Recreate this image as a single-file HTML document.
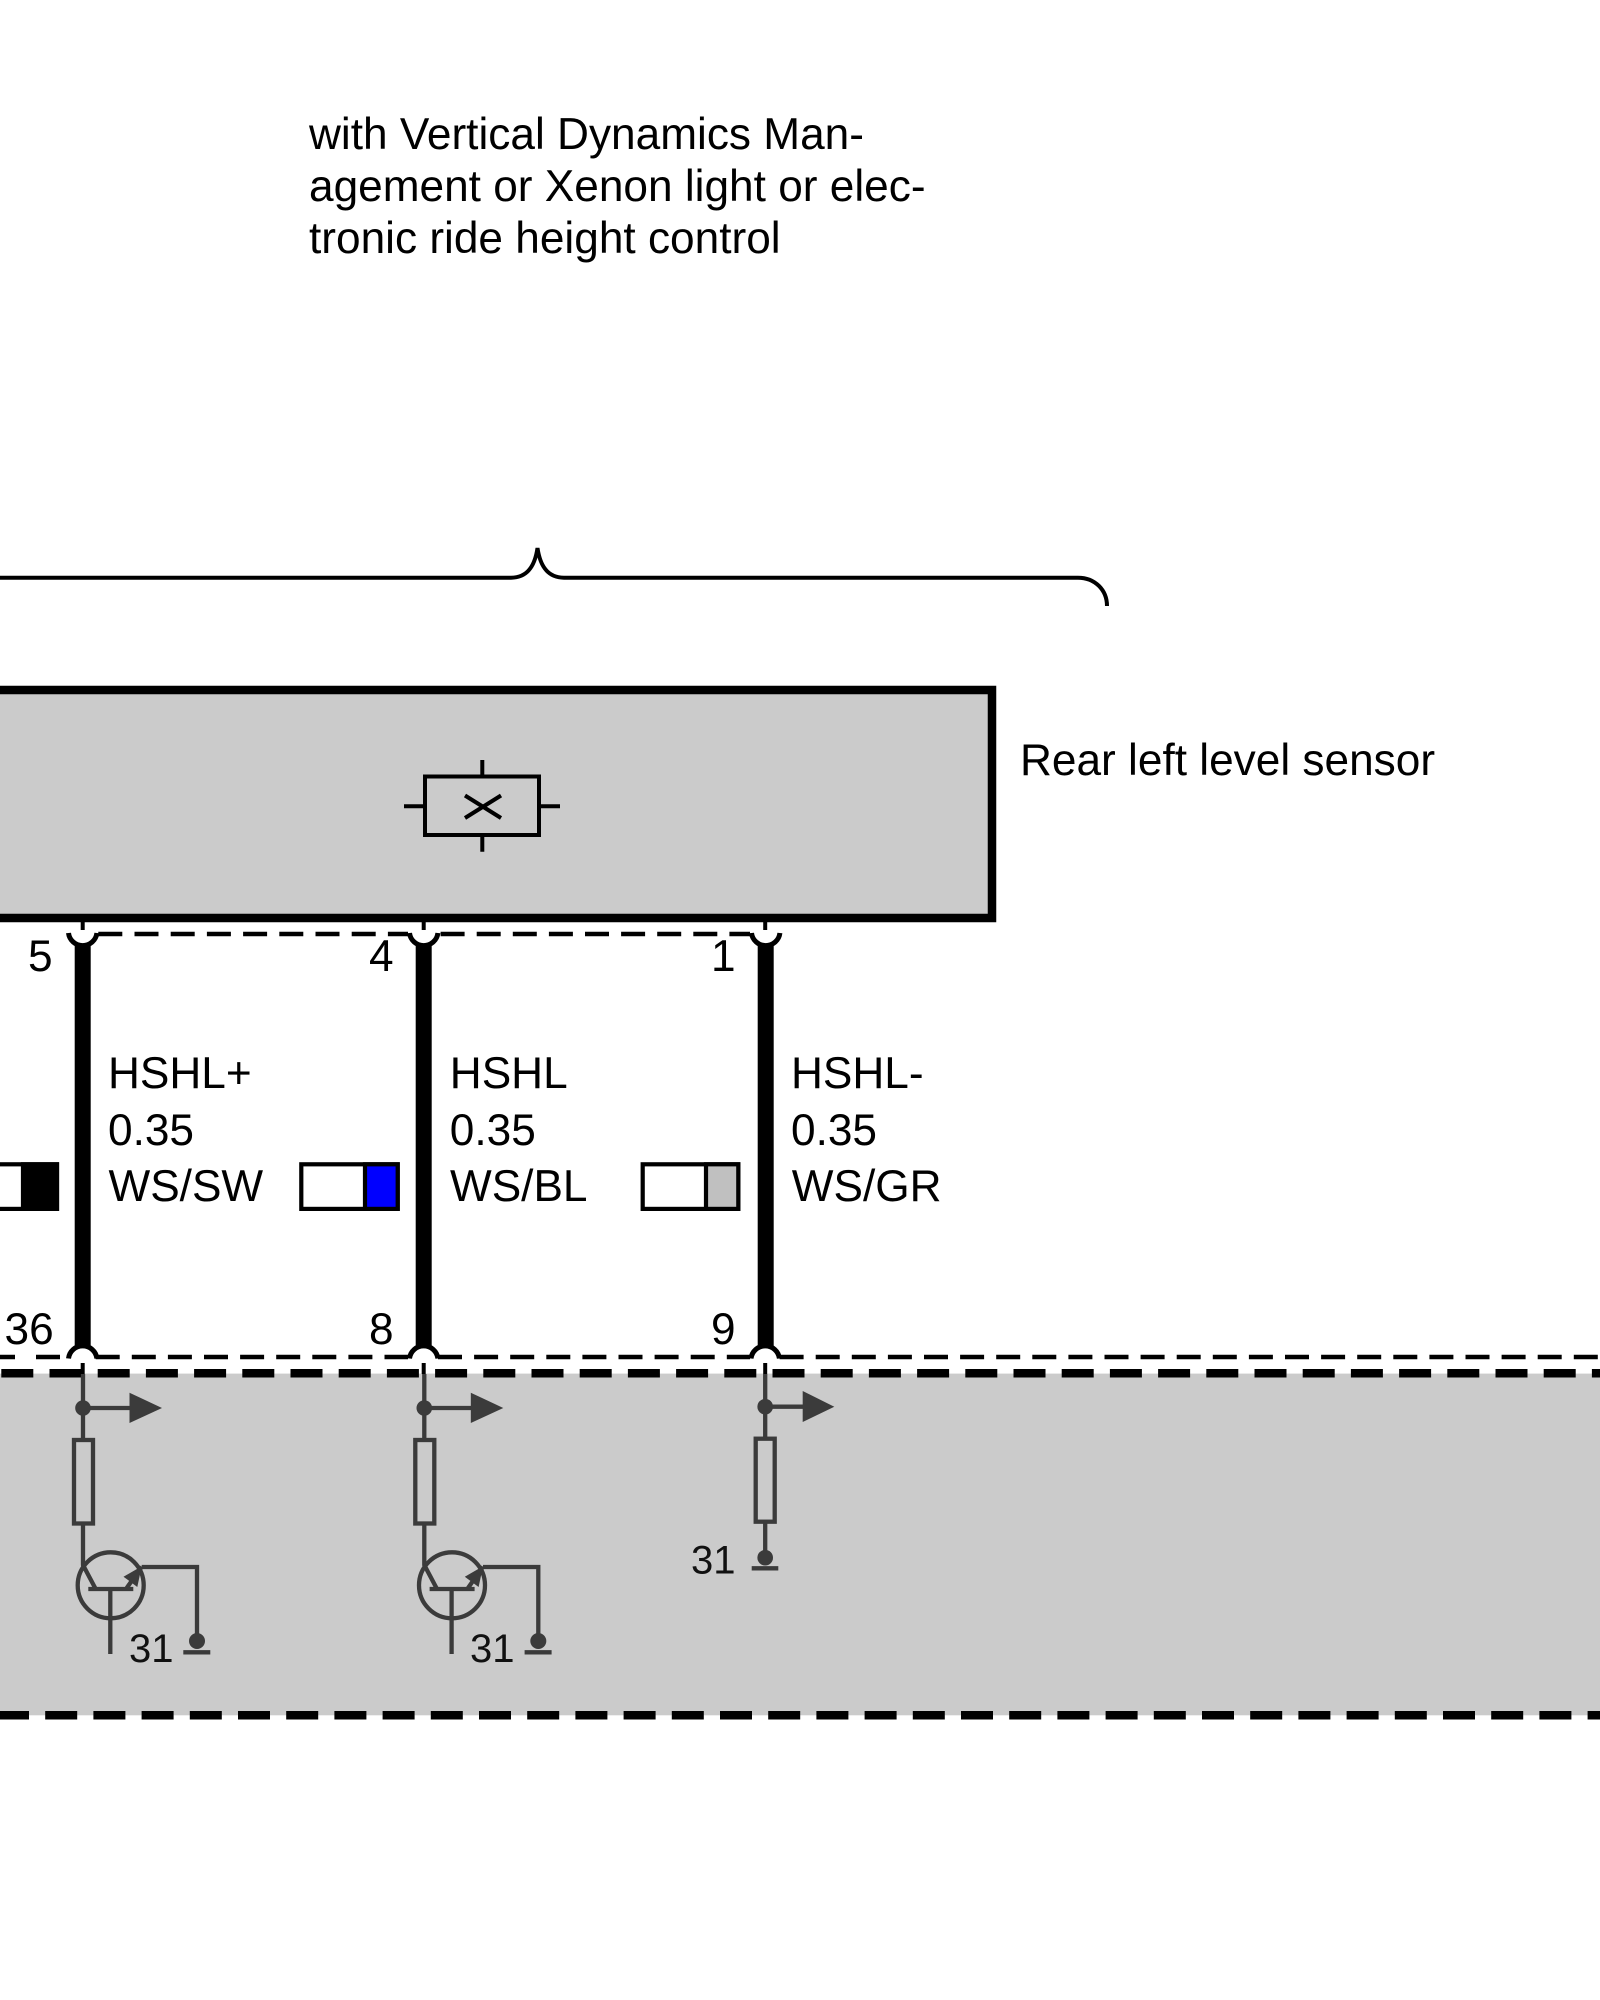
<!DOCTYPE html>
<html lang="en">
<head>
<meta charset="utf-8">
<title>Rear left level sensor wiring</title>
<style>
html,body{margin:0;padding:0;background:#fff;width:1600px;height:2000px;overflow:hidden}
svg{display:block}
text{font-family:"Liberation Sans",Arial,sans-serif;font-size:44.2px;fill:#000}
.s{font-size:40px;fill:#111}
</style>
</head>
<body>
<svg width="1600" height="2000" viewBox="0 0 1600 2000" xmlns="http://www.w3.org/2000/svg">
<rect width="1600" height="2000" fill="#fff"/>

<!-- top note -->
<text x="309" y="149">with Vertical Dynamics Man-</text>
<text x="309" y="201">agement or Xenon light or elec-</text>
<text x="309" y="253">tronic ride height control</text>

<!-- brace -->
<path d="M0 577.7H511C528 577.7 535 565 537.5 548C540 565 547 577.7 564 577.7H1078C1095 577.7 1107 590 1107 606" fill="none" stroke="#000" stroke-width="4"/>

<!-- sensor box -->
<rect x="-10" y="690" width="1002" height="228" fill="#cbcbcb" stroke="#000" stroke-width="8.5"/>
<g fill="none" stroke="#000" stroke-width="4">
<rect x="425" y="776.5" width="114" height="58.5"/>
<path d="M482.3 760V776.5M482.3 835V851.7M404 806.3H425M539 806.3H560M465 795.5L501 818M501 795.5L465 818"/>
</g>
<text x="1020" y="775">Rear left level sensor</text>

<!-- lower band -->
<rect x="0" y="1373.6" width="1600" height="341.7" fill="#cbcbcb"/>
<line x1="-46.9" y1="1373.3" x2="1600" y2="1373.3" stroke="#000" stroke-width="8.5" stroke-dasharray="32 16.2"/>
<line x1="-3" y1="1715.3" x2="1600" y2="1715.3" stroke="#000" stroke-width="8.5" stroke-dasharray="32 16.2"/>

<!-- upper dashed connector line -->
<g stroke="#000" stroke-width="4.5" fill="none">
<line x1="98.3" y1="934" x2="408" y2="934" stroke-dasharray="24 12.2"/>
<line x1="440.6" y1="934" x2="750" y2="934" stroke-dasharray="24 12.1"/>
<!-- lower dashed connector line -->
<line x1="0" y1="1357" x2="15" y2="1357"/>
<line x1="36" y1="1357" x2="60" y2="1357"/>
<line x1="95.7" y1="1357" x2="408" y2="1357" stroke-dasharray="24 12.1"/>
<line x1="438" y1="1357" x2="750" y2="1357" stroke-dasharray="24 12.1"/>
<line x1="779.6" y1="1357" x2="1600" y2="1357" stroke-dasharray="24 12.1"/>
</g>

<!-- wires -->
<g stroke="#000" stroke-width="16">
<line x1="82.7" y1="940" x2="82.7" y2="1350"/>
<line x1="423.7" y1="940" x2="423.7" y2="1350"/>
<line x1="765.7" y1="940" x2="765.7" y2="1350"/>
</g>

<!-- connector cups -->
<g fill="#fff" stroke="#000" stroke-width="5">
<path d="M68.5 933A14.3 14.3 0 0 0 96.9 933Z" stroke="none"/>
<path d="M409.5 933A14.3 14.3 0 0 0 437.9 933Z" stroke="none"/>
<path d="M751.5 933A14.3 14.3 0 0 0 779.9 933Z" stroke="none"/>
<path d="M68.5 933A14.3 14.3 0 0 0 96.9 933" fill="none"/>
<path d="M409.5 933A14.3 14.3 0 0 0 437.9 933" fill="none"/>
<path d="M751.5 933A14.3 14.3 0 0 0 779.9 933" fill="none"/>
<path d="M68.5 1358.5A14.3 14.3 0 0 1 96.9 1358.5Z" stroke="none"/>
<path d="M409.5 1358.5A14.3 14.3 0 0 1 437.9 1358.5Z" stroke="none"/>
<path d="M751 1358.5A14.3 14.3 0 0 1 779.4 1358.5Z" stroke="none"/>
<path d="M68.5 1358.5A14.3 14.3 0 0 1 96.9 1358.5" fill="none"/>
<path d="M409.5 1358.5A14.3 14.3 0 0 1 437.9 1358.5" fill="none"/>
<path d="M751 1358.5A14.3 14.3 0 0 1 779.4 1358.5" fill="none"/>
</g>
<g stroke="#000" stroke-width="4">
<line x1="82.7" y1="922" x2="82.7" y2="930"/>
<line x1="423.7" y1="922" x2="423.7" y2="930"/>
<line x1="765.2" y1="922" x2="765.2" y2="930"/>
<line x1="82.7" y1="1363" x2="82.7" y2="1374"/>
<line x1="423.7" y1="1363" x2="423.7" y2="1374"/>
<line x1="765.2" y1="1363" x2="765.2" y2="1374"/>
</g>

<!-- pin numbers -->
<text x="28" y="971">5</text>
<text x="369" y="971">4</text>
<text x="711" y="971">1</text>
<text x="4.5" y="1344">36</text>
<text x="369" y="1344">8</text>
<text x="711" y="1344">9</text>

<!-- wire labels -->
<text x="108" y="1088">HSHL+</text>
<text x="108" y="1145">0.35</text>
<text x="108.5" y="1201">WS/SW</text>
<text x="449.8" y="1088">HSHL</text>
<text x="449.8" y="1145">0.35</text>
<text x="450" y="1201">WS/BL</text>
<text x="791" y="1088">HSHL-</text>
<text x="791" y="1145">0.35</text>
<text x="791.8" y="1201">WS/GR</text>

<!-- colour swatches -->
<g stroke="#000" stroke-width="4.2">
<rect x="-41" y="1164.3" width="98" height="44.6" fill="#fff"/>
<rect x="23" y="1164.3" width="34" height="44.6" fill="#000"/>
<rect x="301.3" y="1164.3" width="96.4" height="44.6" fill="#fff"/>
<rect x="365" y="1164.3" width="32.7" height="44.6" fill="#0000ff"/>
<rect x="642.7" y="1164.3" width="95.6" height="44.6" fill="#fff"/>
<rect x="706" y="1164.3" width="32.3" height="44.6" fill="#c0c0c0"/>
</g>

<!-- circuit 1 and 2 -->
<g stroke="#3b3b3b" fill="none" stroke-width="4.3">
<path d="M83 1374V1440M83 1523V1565L95.7 1589"/>
<path d="M84 1408H130" />
<circle cx="83" cy="1408" r="7.8" fill="#3b3b3b" stroke="none"/>
<polygon points="129.5,1392.7 162,1408 129.5,1423" fill="#3b3b3b" stroke="none"/>
<rect x="74" y="1440" width="19" height="83.5"/>
<circle cx="110.7" cy="1585.3" r="33"/>
<path d="M88.3 1589H133.3M110.3 1589V1654M126.7 1588L141.7 1566.7M141.7 1567H197V1641M183.3 1652.3H210.3"/>
<polygon points="141.7,1566.3 123.5,1576.7 137.3,1587" fill="#3b3b3b" stroke="none"/>
<circle cx="197" cy="1641" r="8" fill="#3b3b3b" stroke="none"/>
</g>
<g stroke="#3b3b3b" fill="none" stroke-width="4.3" transform="translate(341.3 0)">
<path d="M83 1374V1440M83 1523V1565L95.7 1589"/>
<path d="M84 1408H130" />
<circle cx="83" cy="1408" r="7.8" fill="#3b3b3b" stroke="none"/>
<polygon points="129.5,1392.7 162,1408 129.5,1423" fill="#3b3b3b" stroke="none"/>
<rect x="74" y="1440" width="19" height="83.5"/>
<circle cx="110.7" cy="1585.3" r="33"/>
<path d="M88.3 1589H133.3M110.3 1589V1654M126.7 1588L141.7 1566.7M141.7 1567H197V1641M183.3 1652.3H210.3"/>
<polygon points="141.7,1566.3 123.5,1576.7 137.3,1587" fill="#3b3b3b" stroke="none"/>
<circle cx="197" cy="1641" r="8" fill="#3b3b3b" stroke="none"/>
</g>
<text class="s" x="129" y="1662">31</text>
<text class="s" x="470" y="1662">31</text>

<!-- circuit 3 -->
<g stroke="#3b3b3b" fill="none" stroke-width="4.3">
<path d="M765.2 1374V1438M765.2 1521V1558M766 1406.7H803"/>
<circle cx="765.2" cy="1406.7" r="7.8" fill="#3b3b3b" stroke="none"/>
<polygon points="802.7,1391 834.3,1406.7 802.7,1422" fill="#3b3b3b" stroke="none"/>
<rect x="755.7" y="1438.7" width="19" height="83"/>
<circle cx="765.2" cy="1557.7" r="7.8" fill="#3b3b3b" stroke="none"/>
<path d="M751.7 1568.3H778.3"/>
</g>
<text class="s" x="691" y="1573.5">31</text>
</svg>
</body>
</html>
